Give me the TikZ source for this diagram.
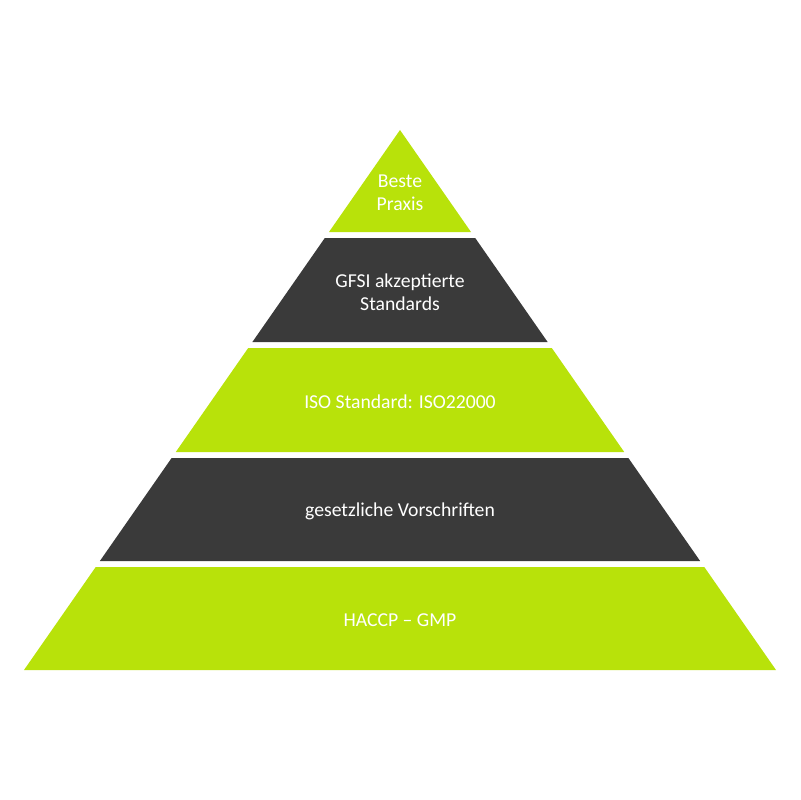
\documentclass[tikz,border=0pt]{standalone}
\usepackage{fontspec}
\setmainfont{Carlito}
\definecolor{pyrlime}{RGB}{184,226,10}
\definecolor{pyrdark}{RGB}{58,58,58}

\begin{document}
\begin{tikzpicture}[
  x=0.025cm, y=-0.025cm,
  lime/.style={fill=pyrlime},
  dark/.style={fill=pyrdark},
  lbl/.style={font=\fontsize{14}{16.5}\selectfont, text=white, align=center}
]
\useasboundingbox (0,0) rectangle (800,800);

% Top: triangle
\fill[lime] (400,130) -- (471,232) -- (329,232) -- cycle;

% Bands: top y / bottom y / style
\foreach \t/\b/\s in {238/342/dark, 348/452/lime, 458/561/dark, 567/670/lime} {
  \fill[\s] ({400-0.6963*(\t-130)},\t) -- ({400+0.6963*(\t-130)},\t)
    -- ({400+0.6963*(\b-130)},\b) -- ({400-0.6963*(\b-130)},\b) -- cycle;
}

% Labels
\node[lbl] (praxis) at (400,193) {Beste\\Praxis};
\node[lbl] (gfsi) at (400,292) {GFSI akzeptierte\\Standards};
\node[lbl] (iso) at (400,402) {ISO Standard: ISO22000};
\node[lbl] (gesetz) at (400,511) {gesetzliche Vorschriften};
\node[lbl] (haccp) at (400,620) {HACCP -- GMP};
\end{tikzpicture}
\end{document}
